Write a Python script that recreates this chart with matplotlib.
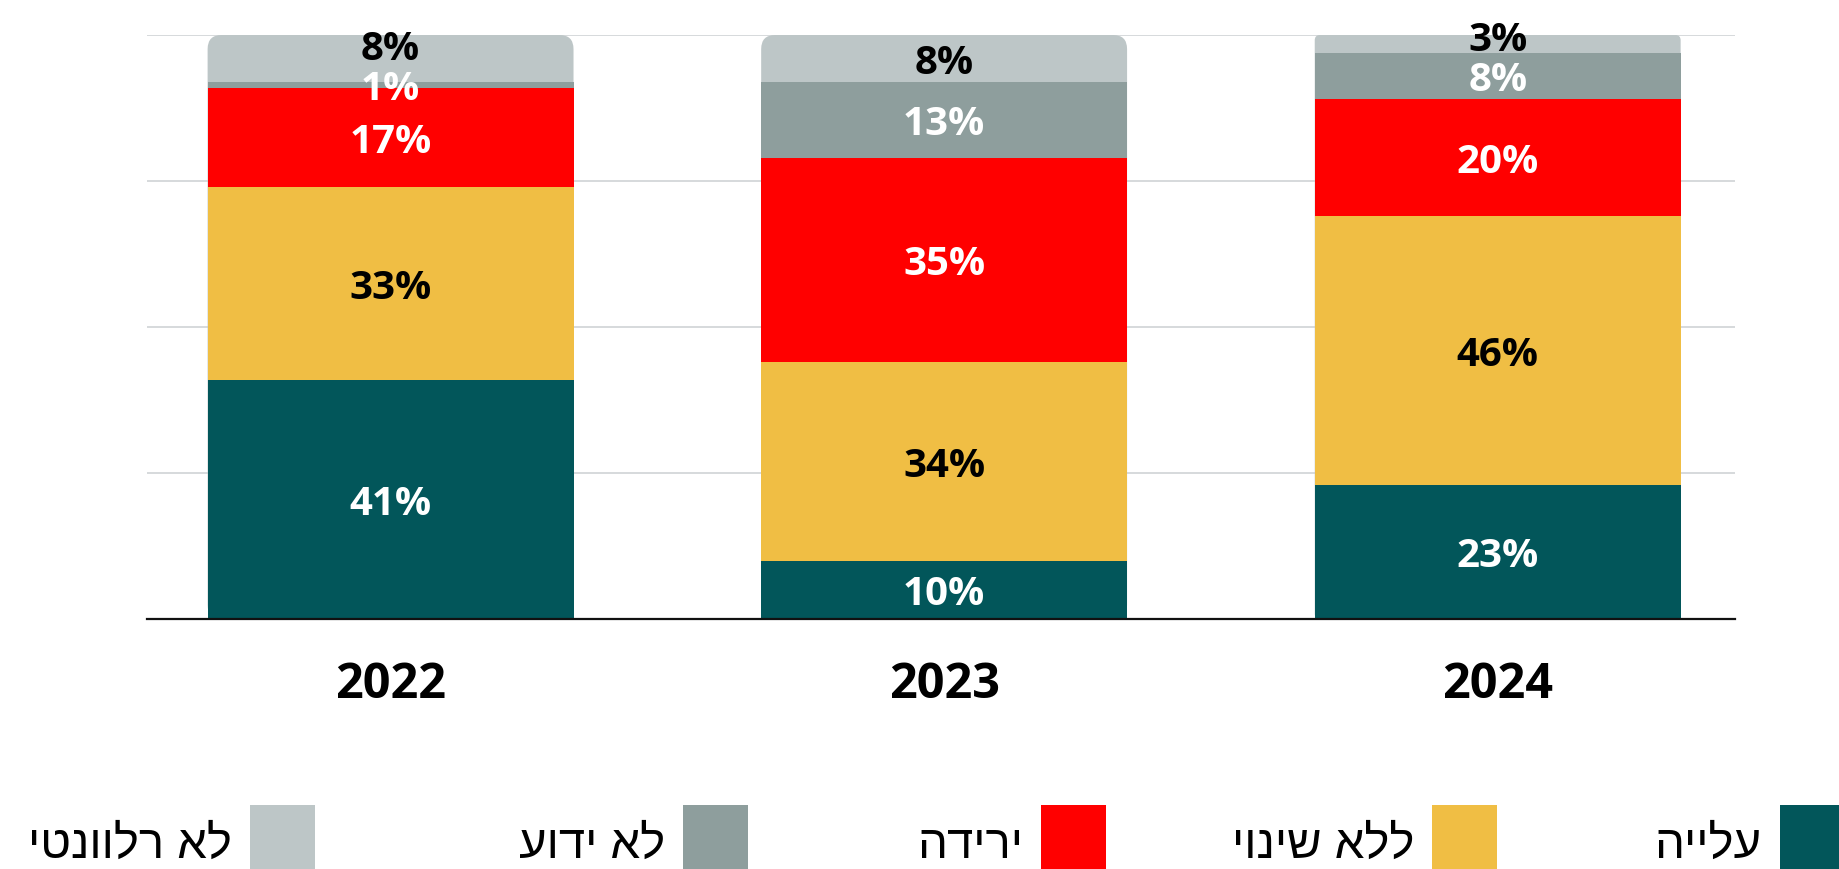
import matplotlib
matplotlib.use("Agg")
import matplotlib.pyplot as plt
from matplotlib.patches import FancyBboxPatch, Rectangle

# data
years = ["2022", "2023", "2024"]
categories = ["עלייה", "ללא שינוי", "ירידה", "לא ידוע", "לא רלוונטי"]
rise = [41, 10, 23]
no_change = [33, 34, 46]
decline = [17, 35, 20]
unknown = [1, 13, 8]
not_relevant = [8, 8, 3]

series = [rise, no_change, decline, unknown, not_relevant]
colors = ["#02565a", "#f0be44", "#ff0000", "#8e9e9d", "#bdc6c7"]
text_colors = ["white", "black", "white", "white", "black"]
# labels pushed up a little where the top segments are thin
label_nudge = {(0, 4): 2.4, (2, 4): 1.4}

W, H, DPI = 1839, 869, 100
num_font = ["Open Sans", "DejaVu Sans"]
heb_font = ["Liberation Sans Narrow", "Liberation Sans", "DejaVu Sans"]

fig = plt.figure(figsize=(W / DPI, H / DPI), dpi=DPI)
ax_l, ax_r, ax_b, ax_t = 147, 1735, 619, 35
ax = fig.add_axes([ax_l / W, 1 - ax_b / H, (ax_r - ax_l) / W, (ax_b - ax_t) / H])

x = list(range(len(years)))
bar_w = 0.661
xmin, xmax = -0.44, 2.4287
ax.set_xlim(xmin, xmax)
ax.set_ylim(0, 100)

px_x = (ax_r - ax_l) / (xmax - xmin)
px_y = (ax_b - ax_t) / 100
text_drop = 5 / px_y  # digits sit a bit low in the segments

bottoms = [0, 0, 0]
for k, vals in enumerate(series):
    last = k == len(series) - 1
    for i in x:
        if last:
            top = bottoms[i] + vals[i]
            r_px = min(18, vals[i] * px_y * 0.3)
            ax.add_patch(FancyBboxPatch(
                (i - bar_w / 2, 0), bar_w, top,
                boxstyle=f"round,pad=0,rounding_size={r_px / px_x}",
                mutation_aspect=px_x / px_y,
                fc=colors[k], ec="none", zorder=1))
        else:
            ax.bar(i, vals[i], bar_w, bottom=bottoms[i], color=colors[k],
                   zorder=2, linewidth=0)
        ymid = bottoms[i] + vals[i] / 2 + label_nudge.get((i, k), 0) - text_drop
        ax.text(i, ymid, f"{vals[i]}%", ha="center", va="center",
                color=text_colors[k], fontsize=29, fontweight="bold",
                family=num_font, zorder=5, clip_on=False)
    bottoms = [b + v for b, v in zip(bottoms, vals)]

ax.set_yticks([25, 50, 75, 100])
ax.yaxis.grid(True, color="#cbd0d2", linewidth=1.1)
ax.set_axisbelow(True)
ax.tick_params(axis="y", length=0, labelleft=False)
ax.set_xticks(x, years)
ax.tick_params(axis="x", length=0, pad=30)
for lab in ax.get_xticklabels():
    lab.set_fontsize(35)
    lab.set_fontweight("bold")
    lab.set_family(num_font)
for s in ["top", "left", "right"]:
    ax.spines[s].set_visible(False)
ax.spines["bottom"].set_color("#111111")
ax.spines["bottom"].set_linewidth(1.6)
ax.spines["bottom"].set_zorder(3)

# legend, right to left like the original
legend_left = [1780, 1432, 1041, 683, 250]
for lab, c, lx in zip(categories, colors, legend_left):
    fig.patches.append(Rectangle((lx / W, -0.05), 65 / W, (H - 805) / H + 0.05,
                                 transform=fig.transFigure, fc=c, ec="none"))
    fig.text((lx - 18) / W, 1 - 846 / H, lab[::-1], ha="right", va="center",
             fontsize=34, family=heb_font)

fig.savefig("out.png", dpi=DPI)
